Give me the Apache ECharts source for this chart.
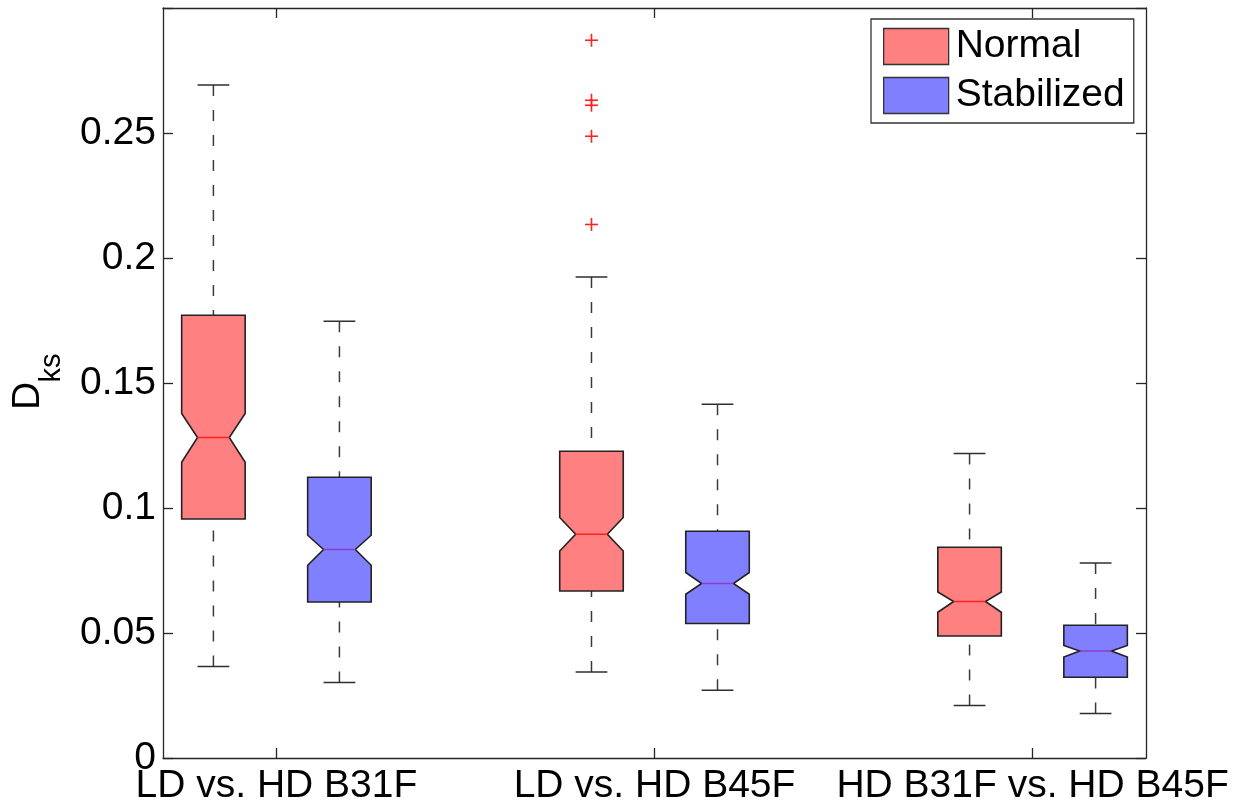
<!DOCTYPE html>
<html>
<head>
<meta charset="utf-8">
<script src="https://cdn.jsdelivr.net/npm/echarts@6/dist/echarts.min.js"></script>
<style>
  html, body { margin: 0; padding: 0; background: #fff; }
  #chart { width: 1250px; height: 810px; }
</style>
</head>
<body>
<div id="chart"></div>
<script>
// Group labels along the bottom axis
const categories = ['LD vs. HD B31F', 'LD vs. HD B45F', 'HD B31F vs. HD B45F'];

// Box statistics per group:
// [lower whisker, Q1, notch low, median, notch high, Q3, upper whisker]
const normalStats = [
  [0.0366, 0.0956, 0.1183, 0.1282, 0.1378, 0.1771, 0.2692],
  [0.0344, 0.0668, 0.0828, 0.0895, 0.0962, 0.1227, 0.1924],
  [0.0210, 0.0488, 0.0583, 0.0626, 0.0664, 0.0843, 0.1218]
];
const stabilizedStats = [
  [0.0302, 0.0624, 0.0771, 0.0834, 0.0891, 0.1123, 0.1747],
  [0.0271, 0.0538, 0.0655, 0.0698, 0.0742, 0.0907, 0.1415],
  [0.0178, 0.0323, 0.0404, 0.0428, 0.0450, 0.0531, 0.0780]
];

// Outliers: [group index, value]
const normalOutliers = [
  [1, 0.2871], [1, 0.2631], [1, 0.2611], [1, 0.2487], [1, 0.2134]
];
const stabilizedOutliers = [];

// Y axis tick labels (step 0.05)
const yTickLabels = ['0', '0.05', '0.1', '0.15', '0.2', '0.25'];

const FONT = "'Liberation Sans', Arial, Helvetica, sans-serif";
const AXIS_COLOR = '#262626';
const NORMAL_FILL = '#ff8080';
const STAB_FILL = '#8080ff';
const OFFSET = 1 / 6;      // box offset from group centre (axis units)
const HALF_W = 0.084;      // half box width
const NOTCH_W = 0.042;     // half width at the notch waist
const CAP_W = 0.042;       // half whisker-cap width

function boxData(stats, sign) {
  return stats.map((s, g) => [g + sign * OFFSET].concat(s));
}
function outlierData(list, sign) {
  return list.map(o => [o[0] + sign * OFFSET, o[1]]);
}

function makeBoxRenderer(fill, medianColor) {
  return function (params, api) {
    const x = api.value(0);
    const lowW = api.value(1), q1 = api.value(2), nlo = api.value(3),
          med = api.value(4), nhi = api.value(5), q3 = api.value(6), upW = api.value(7);
    const P = (dx, y) => api.coord([x + dx, y]);
    const lineStyle = { stroke: '#2e2e2e', lineWidth: 1.5 };
    const dashStyle = { stroke: '#3a3a3a', lineWidth: 1.5, lineDash: [11, 14] };
    const seg = (a, b, style) => ({
      type: 'line',
      shape: { x1: a[0], y1: a[1], x2: b[0], y2: b[1] },
      style: style
    });
    const outline = [
      P(-HALF_W, q1), P(-HALF_W, nlo), P(-NOTCH_W, med), P(-HALF_W, nhi), P(-HALF_W, q3),
      P(HALF_W, q3), P(HALF_W, nhi), P(NOTCH_W, med), P(HALF_W, nlo), P(HALF_W, q1)
    ];
    return {
      type: 'group',
      children: [
        seg(P(0, upW), P(0, q3), dashStyle),
        seg(P(0, lowW), P(0, q1), dashStyle),
        seg(P(-CAP_W, upW), P(CAP_W, upW), lineStyle),
        seg(P(-CAP_W, lowW), P(CAP_W, lowW), lineStyle),
        {
          type: 'polygon',
          shape: { points: outline },
          style: { fill: fill, stroke: '#222', lineWidth: 1.6, lineJoin: 'miter' }
        },
        seg(P(-NOTCH_W, med), P(NOTCH_W, med), { stroke: medianColor, lineWidth: 1.7 })
      ]
    };
  };
}

function renderPlus(params, api) {
  const c = api.coord([api.value(0), api.value(1)]);
  const h = 6.5;
  const st = { stroke: '#ff2020', lineWidth: 1.6 };
  return {
    type: 'group',
    children: [
      { type: 'line', shape: { x1: c[0] - h, y1: c[1], x2: c[0] + h, y2: c[1] }, style: st },
      { type: 'line', shape: { x1: c[0], y1: c[1] - h, x2: c[0], y2: c[1] + h }, style: st }
    ]
  };
}

const chart = echarts.init(document.getElementById('chart'), null, { renderer: 'canvas' });

const groupTicks = categories.map((c, i) => i);

const option = {
  backgroundColor: '#ffffff',
  animation: false,
  textStyle: { fontFamily: FONT },
  grid: { left: 163, top: 8, width: 983, height: 750 },
  legend: {
    orient: 'vertical',
    left: 871,
    top: 19,
    padding: [8, 9, 8, 12],
    itemGap: 10,
    itemWidth: 65,
    itemHeight: 36,
    backgroundColor: '#ffffff',
    borderColor: '#333',
    borderWidth: 1.3,
    borderRadius: 0,
    textStyle: { fontSize: 39, color: '#000', fontFamily: FONT, padding: [5, 0, 0, 2] },
    data: [
      { name: 'Normal', icon: 'rect', itemStyle: { color: NORMAL_FILL, borderColor: '#333', borderWidth: 1.3 } },
      { name: 'Stabilized', icon: 'rect', itemStyle: { color: STAB_FILL, borderColor: '#333', borderWidth: 1.3 } }
    ]
  },
  xAxis: [
    {
      type: 'value',
      position: 'bottom',
      min: -0.3,
      max: 2.3,
      splitLine: { show: false },
      axisLine: { show: true, onZero: false, lineStyle: { color: AXIS_COLOR, width: 1.3 } },
      axisTick: { show: true, inside: true, length: 10, customValues: groupTicks,
                  lineStyle: { color: AXIS_COLOR, width: 1.3 } },
      axisLabel: {
        show: true, customValues: groupTicks, margin: 9,
        fontSize: 39, color: '#000', fontFamily: FONT,
        formatter: v => categories[Math.round(v)] || ''
      }
    },
    {
      type: 'value',
      position: 'top',
      min: -0.3,
      max: 2.3,
      splitLine: { show: false },
      axisLine: { show: true, onZero: false, lineStyle: { color: AXIS_COLOR, width: 1.3 } },
      axisTick: { show: true, inside: true, length: 10, customValues: groupTicks,
                  lineStyle: { color: AXIS_COLOR, width: 1.3 } },
      axisLabel: { show: false }
    }
  ],
  yAxis: [
    {
      type: 'value',
      position: 'left',
      min: 0,
      max: 0.3,
      interval: 0.05,
      splitLine: { show: false },
      axisLine: { show: true, onZero: false, lineStyle: { color: AXIS_COLOR, width: 1.3 } },
      axisTick: { show: true, inside: true, length: 10, lineStyle: { color: AXIS_COLOR, width: 1.3 } },
      axisLabel: {
        margin: 7, fontSize: 39, color: '#000', fontFamily: FONT,
        formatter: v => yTickLabels[Math.round(v / 0.05)] || ''
      }
    },
    {
      type: 'value',
      position: 'right',
      min: 0,
      max: 0.3,
      interval: 0.05,
      splitLine: { show: false },
      axisLine: { show: true, onZero: false, lineStyle: { color: AXIS_COLOR, width: 1.3 } },
      axisTick: { show: true, inside: true, length: 10, lineStyle: { color: AXIS_COLOR, width: 1.3 } },
      axisLabel: { show: false }
    }
  ],
  graphic: [
    {
      type: 'text',
      x: 28, y: 396, rotation: Math.PI / 2,
      style: { text: 'D', fontSize: 39, fontFamily: FONT, fill: '#000', align: 'center', verticalAlign: 'middle' }
    },
    {
      type: 'text',
      x: 52, y: 368, rotation: Math.PI / 2,
      style: { text: 'ks', fontSize: 29, fontFamily: FONT, fill: '#000', align: 'center', verticalAlign: 'middle' }
    }
  ],
  series: [
    {
      name: 'Normal',
      type: 'custom',
      xAxisIndex: 0, yAxisIndex: 0,
      itemStyle: { color: NORMAL_FILL },
      renderItem: makeBoxRenderer(NORMAL_FILL, '#ff2020'),
      encode: { x: 0, y: [1, 2, 3, 4, 5, 6, 7] },
      data: boxData(normalStats, -1),
      z: 3
    },
    {
      name: 'Stabilized',
      type: 'custom',
      xAxisIndex: 0, yAxisIndex: 0,
      itemStyle: { color: STAB_FILL },
      renderItem: makeBoxRenderer(STAB_FILL, '#8c3cc8'),
      encode: { x: 0, y: [1, 2, 3, 4, 5, 6, 7] },
      data: boxData(stabilizedStats, 1),
      z: 3
    },
    {
      name: 'Normal outliers',
      type: 'custom',
      xAxisIndex: 0, yAxisIndex: 0,
      renderItem: renderPlus,
      encode: { x: 0, y: 1 },
      data: outlierData(normalOutliers, -1),
      z: 4
    },
    {
      name: 'Stabilized outliers',
      type: 'custom',
      xAxisIndex: 0, yAxisIndex: 0,
      renderItem: renderPlus,
      encode: { x: 0, y: 1 },
      data: outlierData(stabilizedOutliers, 1),
      z: 4
    }
  ]
};

chart.setOption(option);
</script>
</body>
</html>
